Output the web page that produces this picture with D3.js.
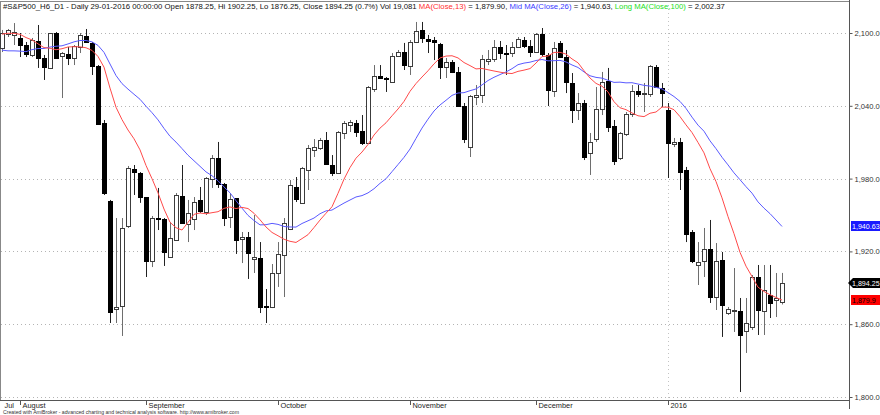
<!DOCTYPE html>
<html><head><meta charset="utf-8">
<script src="https://cdn.jsdelivr.net/npm/d3@7"></script>
<style>
html,body{margin:0;padding:0;background:#fff;}
svg{display:block;font-family:"Liberation Sans",Arial,sans-serif;}
</style></head><body>
<svg id="c" width="880" height="415"></svg>
<script>
// ---- DATA ----
const opens = [2087.6,2099.2,2098.4,2095.9,2090.1,2081.9,2093.4,2079.4,2071.2,2100.0,
2081.0,2082.7,2079.4,2088.5,2097.5,2091.8,2072.8,2025.8,1961.5,1872.5,
1875.0,1940.9,1987.9,1984.6,1964.8,1912.1,1947.5,1946.7,1915.4,1929.4,
1965.7,1942.6,1946.7,1962.4,1952.5,1979.7,1997.0,1975.5,1948.3,1964.0,
1930.2,1931.9,1913.7,1914.6,1875.0,1874.2,1902.2,1917.0,1938.5,1973.1,
1959.9,1987.1,2003.6,2005.2,2011.8,1991.2,1984.6,2017.6,2024.2,2025.8,
2019.2,2009.3,2053.8,2064.6,2062.9,2059.6,2081.0,2084.3,2072.8,2092.6,
2102.5,2095.1,2094.2,2090.9,2072.0,2076.1,2067.9,2039.8,2006.0,2047.3,
2048.9,2076.9,2078.6,2088.5,2083.5,2083.5,2088.5,2094.2,2089.3,2084.3,
2099.2,2081.9,2052.2,2091.8,2080.2,2058.8,2036.5,2042.3,2001.1,2012.6,
2037.4,2060.4,2023.4,1997.0,2016.8,2033.2,2052.2,2049.7,2049.7,2072.0,
2054.7,2036.5,2008.5,2010.2,1987.1,1936.0,1908.8,1912.1,1922.0,1882.4,
1912.9,1869.2,1871.7,1870.9,1854.4,1857.7,1898.9,1871.0,1884.1,1879.9,1878.25];
const highs = [2102.5,2103.3,2108.2,2100.0,2092.6,2095.9,2106.6,2081.9,2100.0,2100.8,
2084.3,2088.5,2090.1,2100.0,2103.3,2092.6,2073.6,2028.3,1962.4,1947.5,
1947.5,1990.4,1991.2,1985.4,1964.8,1949.2,1972.3,1947.5,1944.2,1968.1,
1991.2,1962.4,1964.8,1973.1,1981.3,1999.4,2010.2,1976.4,1968.1,1964.0,
1936.0,1936.0,1950.0,1927.7,1889.0,1909.6,1927.7,1947.5,1978.8,1981.3,
1989.6,2007.7,2012.6,2013.5,2018.4,1999.4,2019.2,2027.5,2028.3,2028.3,
2032.4,2056.3,2073.6,2073.6,2063.7,2083.5,2086.0,2091.8,2094.2,2109.1,
2109.1,2098.4,2096.7,2091.8,2079.4,2077.7,2072.0,2042.3,2048.9,2057.1,
2081.9,2086.0,2094.2,2093.4,2090.1,2092.6,2096.7,2096.7,2094.2,2100.0,
2104.1,2083.5,2092.6,2093.4,2086.0,2067.0,2050.5,2044.8,2017.6,2055.5,
2067.9,2071.2,2028.3,2018.4,2034.9,2057.1,2057.1,2058.8,2073.6,2073.6,
2058.8,2042.3,2013.5,2013.5,1989.6,1937.6,1927.7,1939.3,1945.9,1926.9,
1919.5,1874.2,1906.3,1881.6,1881.6,1900.5,1908.8,1908.8,1908.8,1902.2,1902.25];
const lows = [2084.3,2096.7,2090.1,2080.2,2080.2,2080.2,2071.2,2061.3,2070.3,2078.6,
2046.4,2073.6,2073.6,2083.5,2091.8,2065.4,2024.2,1966.5,1861.0,1861.0,
1850.3,1939.3,1966.5,1960.0,1898.9,1907.1,1937.6,1908.0,1914.6,1928.6,
1942.6,1927.7,1937.6,1951.7,1950.0,1972.3,1972.3,1940.9,1939.3,1917.9,
1910.4,1897.3,1902.2,1869.2,1861.0,1873.3,1890.7,1882.4,1937.6,1960.7,
1959.1,1970.6,1997.8,2003.6,1991.2,1982.1,1983.8,2012.6,2018.4,2014.3,
2007.7,2008.5,2051.4,2062.1,2051.4,2058.8,2080.2,2069.5,2065.4,2091.8,
2091.8,2083.5,2077.7,2062.1,2062.9,2067.0,2039.0,2009.3,1997.8,2040.6,
2042.3,2073.6,2076.1,2078.6,2065.4,2080.2,2087.6,2087.6,2080.2,2083.5,
2080.2,2039.8,2047.3,2079.4,2050.5,2025.8,2028.3,1995.3,1983.0,2010.2,
2032.4,2018.4,1991.2,1995.3,2015.1,2030.8,2047.3,2034.9,2047.3,2054.7,
2039.0,1980.5,2006.0,1970.6,1927.7,1910.4,1892.3,1898.9,1877.5,1871.7,
1849.5,1867.6,1853.6,1804.1,1836.3,1855.2,1851.1,1851.1,1865.1,1865.9,1876.25];
const closes = [2100.0,2102.5,2100.8,2090.1,2082.7,2094.2,2079.4,2072.0,2100.0,2079.4,
2083.5,2079.4,2089.3,2098.4,2092.6,2072.8,2025.0,1968.1,1870.0,1874.2,
1939.3,1988.7,1985.4,1964.8,1912.1,1947.5,1946.7,1919.5,1931.0,1966.5,
1943.4,1951.7,1960.7,1953.3,1980.5,1997.0,1975.5,1947.5,1963.2,1929.4,
1931.9,1918.7,1915.4,1874.2,1874.2,1902.2,1917.9,1943.4,1974.7,1963.2,
1988.7,2005.2,2006.0,2011.8,1992.0,1984.6,2018.4,2025.8,2026.6,2018.4,
2009.3,2055.5,2064.6,2062.9,2062.1,2081.0,2084.3,2073.6,2092.6,2101.7,
2095.9,2093.4,2092.6,2072.0,2076.1,2067.9,2039.8,2012.6,2048.1,2048.9,
2078.6,2078.6,2088.5,2083.5,2082.7,2088.5,2095.1,2089.3,2084.3,2099.2,
2082.7,2053.0,2087.6,2080.2,2059.6,2036.5,2042.3,1997.8,2010.2,2037.4,
2059.6,2022.5,1994.5,2017.6,2033.2,2052.2,2049.7,2050.5,2072.8,2055.5,
2050.5,2009.3,2010.2,1985.4,1934.3,1912.1,1911.3,1922.0,1882.4,1912.1,
1875.8,1872.5,1871.7,1851.1,1861.0,1898.9,1871.7,1888.2,1877.5,1881.6,1894.25];
// closes before the first visible bar (estimated so the averages start where the picture shows them)
const closesBefore = [2117.2,2101.6,2095.3,2094.5,2050.6,2056.1,2070.4,2069.8,2061.8,2074.3,
2039.7,2044.3,2069.6,2092.6,2102.0,2100.4,2117.3,2119.6,2121.3,2112.2,
2107.2,2095.2,2072.7,2060.6,2086.3];
const monthLabels = ["Jul","August","September","October","November","December","2016"];
const monthStartIdx = [0,3,24,46,68,89,111];
const yTicks = [1800,1860,1920,1980,2040,2100];
const maShort = 13, maMid = 26;

// ---- CHART ----
const svg = d3.select("#c");
const W = 880, H = 415;
const plotRight = 849, plotBottom = 400, plotTop = 1;
const n = closes.length;
const x = d3.scaleLinear().domain([0, n - 1]).range([2, 782]);
const y = d3.scaleLinear().domain([1800, 2100]).range([397, 33]);

svg.append("rect").attr("width", W).attr("height", H).attr("fill", "#fff");

// gridlines
const grid = svg.append("g");
grid.selectAll("line.h").data(yTicks).join("line")
  .attr("x1", 1).attr("x2", plotRight)
  .attr("y1", d => Math.round(y(d)) + 0.5).attr("y2", d => Math.round(y(d)) + 0.5)
  .attr("stroke", "#b4b4b4").attr("stroke-dasharray", "1,3");
// vertical dotted line at year boundary
grid.append("line")
  .attr("x1", Math.round(x(monthStartIdx[6])) + 0.5).attr("x2", Math.round(x(monthStartIdx[6])) + 0.5)
  .attr("y1", plotTop).attr("y2", plotBottom)
  .attr("stroke", "#c4c4c4").attr("stroke-dasharray", "1,3");

// frame
const frame = svg.append("g").attr("stroke", "#888").attr("fill", "none");
frame.append("line").attr("x1", 0).attr("x2", plotRight).attr("y1", plotTop + 0.5).attr("y2", plotTop + 0.5);
frame.append("line").attr("x1", 0.5).attr("x2", 0.5).attr("y1", plotTop).attr("y2", plotBottom);
frame.append("line").attr("x1", 0).attr("x2", plotRight).attr("y1", plotBottom + 0.5).attr("y2", plotBottom + 0.5).attr("stroke", "#555");
frame.append("line").attr("x1", plotRight + 0.5).attr("x2", plotRight + 0.5).attr("y1", 0).attr("y2", 409).attr("stroke", "#555");

// candles
const idx = d3.range(n);
const cg = svg.append("g");
cg.selectAll("line.w").data(idx).join("line")
  .attr("x1", i => Math.round(x(i)) + 0.5).attr("x2", i => Math.round(x(i)) + 0.5)
  .attr("y1", i => y(highs[i])).attr("y2", i => y(lows[i]))
  .attr("stroke", i => closes[i] < opens[i] ? "#222" : "#6e6e6e").attr("stroke-width", 1);
cg.selectAll("rect.b").data(idx).join("rect")
  .attr("x", i => Math.round(x(i)) - 2 + 0.5)
  .attr("width", 4)
  .attr("y", i => Math.round(y(Math.max(opens[i], closes[i]))) + 0.5)
  .attr("height", i => Math.max(1, Math.round(Math.abs(y(opens[i]) - y(closes[i])))))
  .attr("fill", i => closes[i] < opens[i] ? "#000" : "#fff")
  .attr("stroke", i => closes[i] < opens[i] ? "#000" : "#3c3c3c")
  .attr("stroke-width", 1);

// moving averages
const all = closesBefore.concat(closes);
const off = closesBefore.length;
function sma(p) {
  return idx.map(i => {
    const j = off + i;
    return d3.mean(all.slice(j - p + 1, j + 1));
  });
}
const ma13 = sma(maShort), ma26 = sma(maMid);
const line = d3.line().x((d, i) => x(i)).y(d => y(d));
svg.append("path").attr("d", line(ma26)).attr("fill", "none").attr("stroke", "#5a5aff").attr("stroke-width", 1);
svg.append("path").attr("d", line(ma13)).attr("fill", "none").attr("stroke", "#ff4a4a").attr("stroke-width", 1);

// right axis
const axis = d3.axisRight(y).tickValues(yTicks).tickFormat(d3.format(",.1f")).tickSize(3).tickPadding(2);
const ag = svg.append("g").attr("transform", `translate(${plotRight + 0.5},0)`).call(axis);
ag.select(".domain").remove();
ag.selectAll(".tick line").attr("stroke", "#555");
ag.selectAll(".tick text").attr("font-size", 7.6).attr("fill", "#333").attr("font-family", "Liberation Sans, Arial, sans-serif");

// value tags on the axis
function tag(val, txt, bg, fg, arrow) {
  const yy = Math.round(y(val));
  const g = svg.append("g");
  if (arrow) {
    g.append("path").attr("d", `M${plotRight - 1},${yy} L${plotRight + 4},${yy - 5} L${W},${yy - 5} L${W},${yy + 5} L${plotRight + 4},${yy + 5} Z`).attr("fill", bg);
  } else {
    g.append("rect").attr("x", plotRight + 2).attr("y", yy - 5).attr("width", W - plotRight - 2).attr("height", 10).attr("fill", bg);
  }
  g.append("text").attr("x", plotRight + 3).attr("y", yy + 3).attr("font-size", 7.1).attr("fill", fg).text(txt);
}
tag(ma26[n - 1], "1,940.63", "#1a1aff", "#fff", false);
tag(closes[n - 1], "1,894.25", "#000", "#fff", true);
tag(ma13[n - 1], "1,879.9", "#ff0000", "#000", false);

// x-axis month labels
const xg = svg.append("g");
monthStartIdx.forEach((mi, k) => {
  const xx = Math.round(x(mi)) + 0.5;
  if (k > 0) xg.append("line").attr("x1", xx).attr("x2", xx).attr("y1", 401).attr("y2", 405).attr("stroke", "#555");
  xg.append("text").attr("x", xx + 2).attr("y", 407.5).attr("font-size", 7.4).attr("fill", "#222").text(monthLabels[k]);
});

// footer
svg.append("text").attr("x", 3).attr("y", 414.2).attr("font-size", 4.7).attr("fill", "#333")
  .attr("textLength", 236).attr("lengthAdjust", "spacingAndGlyphs")
  .text("Created with AmiBroker - advanced charting and technical analysis software. http://www.amibroker.com");

// header
const hdr = svg.append("text").attr("x", 3).attr("y", 9).attr("font-size", 7.75).attr("fill", "#111");
hdr.append("tspan").text("#S&P500_H6_D1 - Daily 29-01-2016 00:00:00 Open 1878.25, Hi 1902.25, Lo 1876.25, Close 1894.25 (0.7%) Vol 19,081 ");
hdr.append("tspan").attr("fill", "#ff3030").text("MA(Close,13)");
hdr.append("tspan").text(" = 1,879.90, ");
hdr.append("tspan").attr("fill", "#3a3aff").text("Mid MA(Close,26)");
hdr.append("tspan").text(" = 1,940.63, ");
hdr.append("tspan").attr("fill", "#22e022").text("Long MA(Close,100)");
hdr.append("tspan").text(" = 2,002.37");
</script>
</body></html>
